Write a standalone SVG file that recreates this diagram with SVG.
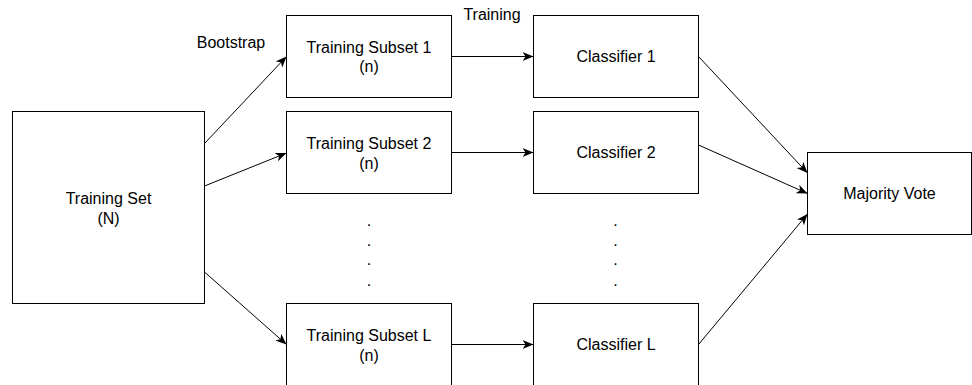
<svg xmlns="http://www.w3.org/2000/svg" width="972" height="385" viewBox="0 0 972 385">
<defs>
<style>
.box{fill:#fff;stroke:#000;stroke-width:1}
.t{font-family:"Liberation Sans",Arial,Helvetica,sans-serif;font-size:16px;fill:#000;text-anchor:middle}
.c{fill:none;stroke:#000;stroke-width:1}
</style>
<marker id="arr" markerUnits="userSpaceOnUse" viewBox="0 0 11 9" refX="11" refY="4.5" markerWidth="11" markerHeight="9" orient="auto">
<path d="M0,0 L11,4.5 L0,9 L3,4.5 Z" fill="#000"/>
</marker>
</defs>
<rect width="972" height="385" fill="#fff"/>
<g id="connectors">
<path class="c" d="M204.5,143.5 L286.5,56.5" marker-end="url(#arr)"/>
<path class="c" d="M204.5,186 L286.5,153" marker-end="url(#arr)"/>
<path class="c" d="M204.5,272 L286.5,344.5" marker-end="url(#arr)"/>
<path class="c" d="M451.5,56.5 L533.5,56.5" marker-end="url(#arr)"/>
<path class="c" d="M451.5,152.5 L533.5,152.5" marker-end="url(#arr)"/>
<path class="c" d="M451.5,344.5 L533.5,344.5" marker-end="url(#arr)"/>
<path class="c" d="M698.5,56.5 L807.5,173" marker-end="url(#arr)"/>
<path class="c" d="M698.5,145 L807.5,193.5" marker-end="url(#arr)"/>
<path class="c" d="M698.5,344.5 L807.5,214" marker-end="url(#arr)"/>
<text class="t" x="231" y="48">Bootstrap</text>
<text class="t" x="492" y="20">Training</text>
</g>
<g id="training-set">
<rect class="box" x="12.5" y="111.5" width="192" height="192"/>
<text class="t" x="108.5" y="204">Training Set</text>
<text class="t" x="108.5" y="223.5">(N)</text>
</g>
<g id="subset-1">
<rect class="box" x="286.5" y="15.5" width="165" height="82"/>
<text class="t" x="369" y="52.5">Training Subset 1</text>
<text class="t" x="369" y="72">(n)</text>
</g>
<g id="subset-2">
<rect class="box" x="286.5" y="111.5" width="165" height="82"/>
<text class="t" x="369" y="149">Training Subset 2</text>
<text class="t" x="369" y="168.5">(n)</text>
</g>
<g id="subset-dots">
<text class="t" x="369" y="226">.</text>
<text class="t" x="369" y="245.5">.</text>
<text class="t" x="369" y="264.5">.</text>
<text class="t" x="369" y="285.5">.</text>
</g>
<g id="subset-l">
<rect class="box" x="286.5" y="303.5" width="165" height="82"/>
<text class="t" x="369" y="341">Training Subset L</text>
<text class="t" x="369" y="360.5">(n)</text>
</g>
<g id="classifier-1">
<rect class="box" x="533.5" y="15.5" width="165" height="82"/>
<text class="t" x="616" y="62">Classifier 1</text>
</g>
<g id="classifier-2">
<rect class="box" x="533.5" y="111.5" width="165" height="82"/>
<text class="t" x="616" y="158">Classifier 2</text>
</g>
<g id="classifier-dots">
<text class="t" x="615.5" y="226">.</text>
<text class="t" x="615.5" y="245.5">.</text>
<text class="t" x="615.5" y="264.5">.</text>
<text class="t" x="615.5" y="285.5">.</text>
</g>
<g id="classifier-l">
<rect class="box" x="533.5" y="303.5" width="165" height="82"/>
<text class="t" x="616" y="350">Classifier L</text>
</g>
<g id="majority-vote">
<rect class="box" x="807.5" y="152.5" width="164" height="82"/>
<text class="t" x="889.5" y="199">Majority Vote</text>
</g>
</svg>
